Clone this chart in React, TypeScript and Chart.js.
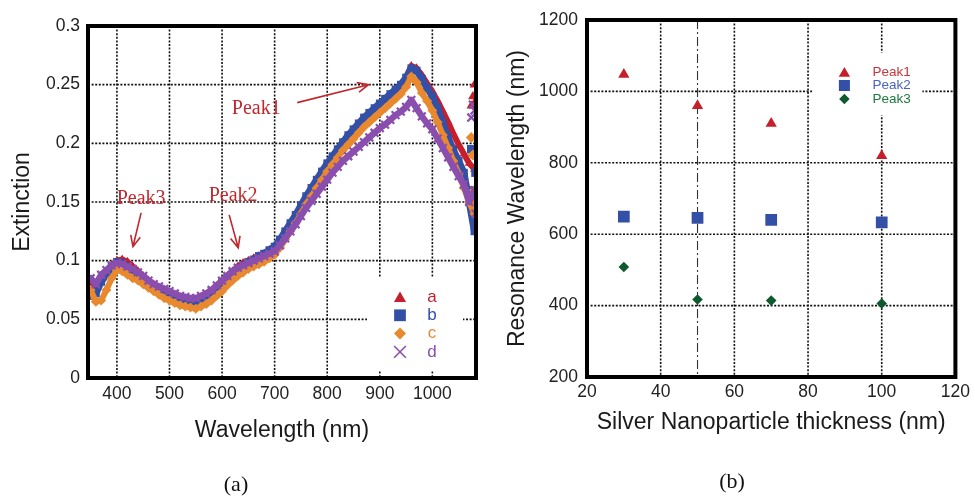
import React, { useEffect, useRef } from 'react';
import { Chart, registerables } from 'chart.js';

Chart.register(...registerables);

const SANS = "'Liberation Sans', Arial, Helvetica, sans-serif";
const SERIF = "'Liberation Serif', 'Times New Roman', serif";

// ---------------- Panel (a): extinction spectra ----------------
const wavelengthNm = [
  350, 360, 370, 380, 390, 400, 410, 420, 430, 440,
  450, 460, 470, 480, 490, 500, 510, 520, 530, 540,
  550, 560, 570, 580, 590, 600, 610, 620, 630, 640,
  650, 660, 670, 680, 690, 700, 710, 720, 730, 740,
  750, 760, 770, 780, 790, 800, 810, 820, 830, 840,
  850, 860, 870, 880, 890, 900, 910, 920, 930, 940,
  950, 960, 970, 980, 990, 1000, 1010, 1020, 1030, 1040,
  1050, 1060, 1070, 1080,
];

const extinctionA = [
  0.078, 0.075, 0.085, 0.090, 0.096, 0.100, 0.101, 0.099, 0.095, 0.091,
  0.087, 0.083, 0.080, 0.077, 0.075, 0.073, 0.071, 0.069, 0.068, 0.067,
  0.067, 0.069, 0.071, 0.074, 0.078, 0.083, 0.087, 0.091, 0.095, 0.098,
  0.100, 0.102, 0.104, 0.106, 0.109, 0.112, 0.117, 0.124, 0.131, 0.138,
  0.146, 0.154, 0.161, 0.168, 0.175, 0.182, 0.188, 0.194, 0.200, 0.206,
  0.211, 0.216, 0.221, 0.225, 0.229, 0.233, 0.237, 0.241, 0.245, 0.249,
  0.256, 0.266, 0.264, 0.258, 0.251, 0.244, 0.236, 0.227, 0.218, 0.208,
  0.199, 0.191, 0.183, 0.178,
];

const extinctionB = [
  0.070, 0.072, 0.082, 0.088, 0.095, 0.099, 0.098, 0.095, 0.091, 0.088,
  0.085, 0.081, 0.078, 0.075, 0.073, 0.071, 0.069, 0.067, 0.066, 0.065,
  0.065, 0.067, 0.070, 0.073, 0.077, 0.082, 0.086, 0.090, 0.093, 0.096,
  0.099, 0.101, 0.104, 0.106, 0.109, 0.112, 0.118, 0.125, 0.132, 0.139,
  0.147, 0.155, 0.162, 0.169, 0.176, 0.183, 0.189, 0.195, 0.201, 0.207,
  0.212, 0.217, 0.222, 0.226, 0.230, 0.234, 0.238, 0.242, 0.246, 0.250,
  0.256, 0.264, 0.262, 0.255, 0.247, 0.240, 0.230, 0.217, 0.205, 0.194,
  0.185, 0.175, 0.150, 0.125,
];

const extinctionC = [
  0.075, 0.065, 0.066, 0.075, 0.085, 0.092, 0.091, 0.088, 0.085, 0.083,
  0.080, 0.077, 0.074, 0.071, 0.068, 0.066, 0.064, 0.062, 0.061, 0.060,
  0.059, 0.061, 0.063, 0.066, 0.070, 0.074, 0.079, 0.083, 0.087, 0.090,
  0.093, 0.095, 0.097, 0.099, 0.102, 0.105, 0.111, 0.118, 0.125, 0.132,
  0.140, 0.148, 0.155, 0.162, 0.169, 0.176, 0.182, 0.188, 0.194, 0.199,
  0.204, 0.209, 0.214, 0.218, 0.222, 0.226, 0.230, 0.234, 0.238, 0.242,
  0.248, 0.257, 0.252, 0.243, 0.236, 0.228, 0.218, 0.207, 0.196, 0.185,
  0.174, 0.162, 0.150, 0.140,
];

const extinctionD = [
  0.085, 0.080, 0.088, 0.092, 0.096, 0.098, 0.097, 0.095, 0.093, 0.090,
  0.087, 0.083, 0.080, 0.078, 0.076, 0.074, 0.072, 0.070, 0.069, 0.068,
  0.068, 0.070, 0.072, 0.075, 0.079, 0.083, 0.087, 0.091, 0.094, 0.096,
  0.098, 0.100, 0.102, 0.104, 0.106, 0.108, 0.113, 0.119, 0.125, 0.131,
  0.138, 0.145, 0.151, 0.157, 0.163, 0.169, 0.175, 0.180, 0.185, 0.189,
  0.193, 0.197, 0.201, 0.205, 0.209, 0.213, 0.216, 0.220, 0.224, 0.227,
  0.231, 0.237, 0.230, 0.223, 0.217, 0.212, 0.204, 0.196, 0.188, 0.180,
  0.172, 0.165, 0.150, 0.160,
];

// scattered end points at the long-wavelength edge
const tailWavelengthNm = [1074, 1077, 1080, 1082];
const tailA = [0.232, 0.240, 0.250, 0.236];
const tailB = [0.195, 0.160, 0.135, 0.175];
const tailC = [0.205, 0.190, 0.160, 0.150];
const tailD = [0.222, 0.233, 0.228, 0.140];

const extSeriesNames = ['a', 'b', 'c', 'd'];
const extXTicks = [400, 500, 600, 700, 800, 900, 1000];
const extXLabels = ['400', '500', '600', '700', '800', '900', '1000'];
const extYTicks = [0, 0.05, 0.1, 0.15, 0.2, 0.25, 0.3];
const extYLabels = ['0', '0.05', '0.1', '0.15', '0.2', '0.25', '0.3'];

// ---------------- Panel (b): resonance wavelengths ----------------
const thicknessNm = [30, 50, 70, 100];
const peak1Nm = [1047, 960, 910, 820];
const peak2Nm = [649, 646, 640, 633];
const peak3Nm = [508, 417, 414, 406];
const peakNames = ['Peak1', 'Peak2', 'Peak3'];
const resXTicks = [20, 40, 60, 80, 100, 120];
const resXLabels = ['20', '40', '60', '80', '100', '120'];
const resYTicks = [200, 400, 600, 800, 1000, 1200];
const resYLabels = ['200', '400', '600', '800', '1000', '1200'];
const markedThickness = 50;

// colours
const RED = '#c61f2b';
const BLUE = '#3350a6';
const ORANGE = '#e8892f';
const PURPLE = '#8a4fae';
const GREEN = '#0e5a2c';
const NOTE_RED = '#c0282e';

// annotation texts for panel (a) (in data units)
const peakNotes = [
  { text: 'Peak1', x: 665, y: 0.2254, from: [743, 0.2347], to: [878.5, 0.25] },
  { text: 'Peak2', x: 621, y: 0.1508, from: [613.5, 0.139], to: [630.7, 0.111] },
  { text: 'Peak3', x: 446, y: 0.1483, from: [446, 0.1407], to: [430.5, 0.1119] },
];

const pts = (xs: number[], ys: number[]) => xs.map((x, i) => ({ x, y: ys[i] }));

function drawMarker(ctx: CanvasRenderingContext2D, style: string, x: number, y: number, r: number, color: string) {
  ctx.save();
  ctx.fillStyle = color;
  ctx.strokeStyle = color;
  ctx.beginPath();
  if (style === 'triangle') {
    ctx.moveTo(x, y - r);
    ctx.lineTo(x + r * 0.866, y + r / 2);
    ctx.lineTo(x - r * 0.866, y + r / 2);
    ctx.closePath();
    ctx.fill();
  } else if (style === 'rect') {
    const s = r * Math.SQRT1_2;
    ctx.fillRect(x - s, y - s, 2 * s, 2 * s);
  } else if (style === 'rectRot') {
    ctx.moveTo(x, y - r);
    ctx.lineTo(x + r, y);
    ctx.lineTo(x, y + r);
    ctx.lineTo(x - r, y);
    ctx.closePath();
    ctx.fill();
  } else {
    const s = r * Math.SQRT1_2;
    ctx.lineWidth = 1.6;
    ctx.moveTo(x - s, y - s);
    ctx.lineTo(x + s, y + s);
    ctx.moveTo(x + s, y - s);
    ctx.lineTo(x - s, y + s);
    ctx.stroke();
  }
  ctx.restore();
}

function drawGrid(chart: any, xs: number[], ys: number[]) {
  const { ctx, chartArea: a, scales } = chart;
  ctx.save();
  ctx.strokeStyle = '#111';
  ctx.lineWidth = 1.6;
  ctx.setLineDash([2, 1.6]);
  xs.forEach((v) => {
    const px = scales.x.getPixelForValue(v);
    ctx.beginPath();
    ctx.moveTo(px, a.top);
    ctx.lineTo(px, a.bottom);
    ctx.stroke();
  });
  ys.forEach((v) => {
    const py = scales.y.getPixelForValue(v);
    ctx.beginPath();
    ctx.moveTo(a.left, py);
    ctx.lineTo(a.right, py);
    ctx.stroke();
  });
  ctx.restore();
}

function drawFrame(chart: any) {
  const { ctx, chartArea: a } = chart;
  ctx.save();
  ctx.strokeStyle = '#000';
  ctx.lineWidth = 4;
  ctx.setLineDash([]);
  ctx.strokeRect(a.left, a.top, a.right - a.left, a.bottom - a.top);
  ctx.restore();
}

function whiteBox(chart: any, x: number, y: number, w: number, h: number) {
  const { ctx } = chart;
  ctx.save();
  ctx.fillStyle = '#fff';
  ctx.fillRect(x, y, w, h);
  ctx.restore();
}

const panelAPlugin = {
  id: 'panelA',
  beforeDatasetsDraw(chart: any) {
    const a = chart.chartArea;
    drawGrid(chart, extXTicks, extYTicks.slice(1, -1));
    whiteBox(chart, a.right - 109, a.bottom - 100, 96, 92);
  },
  afterDatasetsDraw(chart: any) {
    const { ctx, chartArea: a, scales } = chart;
    drawFrame(chart);
    // legend
    const styles = ['triangle', 'rect', 'rectRot', 'crossRot'];
    const colors = [RED, BLUE, ORANGE, PURPLE];
    const sizes = [7, 8.3, 6, 8.3];
    extSeriesNames.forEach((name, i) => {
      const y = a.bottom - 81 + i * 18.3;
      drawMarker(ctx, styles[i], a.right - 76, y + (i === 0 ? 1.5 : 0), sizes[i], colors[i]);
      ctx.save();
      ctx.fillStyle = colors[i];
      ctx.font = `17px ${SANS}`;
      ctx.textAlign = 'center';
      ctx.textBaseline = 'middle';
      ctx.fillText(name, a.right - 44, y);
      ctx.restore();
    });
    // peak annotations
    ctx.save();
    ctx.fillStyle = NOTE_RED;
    ctx.strokeStyle = NOTE_RED;
    ctx.font = `20px ${SERIF}`;
    ctx.textAlign = 'center';
    ctx.textBaseline = 'alphabetic';
    ctx.lineWidth = 1.6;
    peakNotes.forEach((n) => {
      ctx.fillText(n.text, scales.x.getPixelForValue(n.x), scales.y.getPixelForValue(n.y));
      const fx = scales.x.getPixelForValue(n.from[0]);
      const fy = scales.y.getPixelForValue(n.from[1]);
      const tx = scales.x.getPixelForValue(n.to[0]);
      const ty = scales.y.getPixelForValue(n.to[1]);
      const ang = Math.atan2(ty - fy, tx - fx);
      const L = 12;
      const w = 0.42;
      ctx.beginPath();
      ctx.moveTo(fx, fy);
      ctx.lineTo(tx, ty);
      ctx.moveTo(tx - L * Math.cos(ang - w), ty - L * Math.sin(ang - w));
      ctx.lineTo(tx, ty);
      ctx.lineTo(tx - L * Math.cos(ang + w), ty - L * Math.sin(ang + w));
      ctx.stroke();
    });
    ctx.restore();
    // panel label
    ctx.save();
    ctx.fillStyle = '#111';
    ctx.font = `22px ${SERIF}`;
    ctx.textAlign = 'center';
    ctx.textBaseline = 'middle';
    ctx.fillText('(a)', 236, 485);
    ctx.restore();
  },
};

const panelBPlugin = {
  id: 'panelB',
  beforeDatasetsDraw(chart: any) {
    const { ctx, chartArea: a, scales } = chart;
    drawGrid(chart, resXTicks.slice(1, -1), resYTicks.slice(1, -1));
    // dash-dot marker line
    const px = scales.x.getPixelForValue(markedThickness);
    ctx.save();
    ctx.strokeStyle = '#333';
    ctx.lineWidth = 1.1;
    ctx.setLineDash([9, 3, 2, 3]);
    ctx.beginPath();
    ctx.moveTo(px, a.top);
    ctx.lineTo(px, a.bottom);
    ctx.stroke();
    ctx.restore();
    whiteBox(chart, a.right - 143, a.top + 33, 110, 62);
  },
  afterDatasetsDraw(chart: any) {
    const { ctx, chartArea: a } = chart;
    drawFrame(chart);
    const styles = ['triangle', 'rect', 'rectRot'];
    const colors = [RED, BLUE, GREEN];
    const textColors = ['#c8353a', '#4a64c0', '#1d7a3e'];
    const sizes = [6.5, 7.8, 5.2];
    peakNames.forEach((name, i) => {
      const y = a.top + 52 + i * 13.5;
      drawMarker(ctx, styles[i], a.right - 111, y + (i === 0 ? 1.5 : 0), sizes[i], colors[i]);
      ctx.save();
      ctx.fillStyle = textColors[i];
      ctx.font = `13.5px ${SANS}`;
      ctx.textAlign = 'left';
      ctx.textBaseline = 'middle';
      ctx.fillText(name, a.right - 83, y);
      ctx.restore();
    });
    ctx.save();
    ctx.fillStyle = '#111';
    ctx.font = `22px ${SERIF}`;
    ctx.textAlign = 'center';
    ctx.textBaseline = 'middle';
    ctx.fillText('(b)', 242, 482);
    ctx.restore();
  },
};

const tickFont = { family: SANS, size: 17.5 };
const titleFont = { family: SANS, size: 23 };

function fixedTicks(values: number[]) {
  return (scale: any) => {
    scale.ticks = values.map((v) => ({ value: v }));
  };
}

export default function App() {
  const leftRef = useRef<HTMLCanvasElement | null>(null);
  const rightRef = useRef<HTMLCanvasElement | null>(null);

  useEffect(() => {
    if (!leftRef.current || !rightRef.current) return;

    // dense marker band: thick connecting line under the markers
    const bandDef = (label: string, ys: number[], style: string, color: string, r: number, lw: number, order: number, pbw = 0) => ({
      label,
      data: pts(wavelengthNm, ys),
      showLine: true,
      tension: 0,
      borderWidth: lw,
      borderJoinStyle: 'round',
      borderCapStyle: 'round',
      pointStyle: style,
      pointRadius: r,
      pointHoverRadius: r,
      pointBorderWidth: pbw,
      pointBackgroundColor: color,
      pointBorderColor: color,
      backgroundColor: color,
      borderColor: color,
      order,
    });
    const tailDef = (label: string, ys: number[], style: string, color: string, r: number, order: number, pbw = 0) => ({
      label,
      data: pts(tailWavelengthNm, ys),
      showLine: false,
      pointStyle: style,
      pointRadius: r,
      pointHoverRadius: r,
      borderWidth: pbw,
      backgroundColor: color,
      borderColor: color,
      order,
    });

    const left = new Chart(leftRef.current, {
      type: 'scatter',
      data: {
        datasets: [
          bandDef(extSeriesNames[0], extinctionA, 'triangle', RED, 5, 6, 8),
          tailDef(extSeriesNames[0], tailA, 'triangle', RED, 5.5, 7),
          bandDef(extSeriesNames[1], extinctionB, 'rect', BLUE, 5.5, 7, 6),
          tailDef(extSeriesNames[1], tailB, 'rect', BLUE, 6, 5),
          bandDef(extSeriesNames[2], extinctionC, 'rectRot', ORANGE, 5, 6, 4),
          tailDef(extSeriesNames[2], tailC, 'rectRot', ORANGE, 5.5, 3),
          bandDef(extSeriesNames[3], extinctionD, 'crossRot', PURPLE, 5.5, 6.5, 2, 2.2),
          tailDef(extSeriesNames[3], tailD, 'crossRot', PURPLE, 5.5, 1, 2.2),
        ],
      } as any,
      options: {
        responsive: false,
        animation: false,
        events: [],
        layout: { padding: { left: 0, right: 14, top: 26, bottom: 0 } },
        plugins: { legend: { display: false }, tooltip: { enabled: false } },
        scales: {
          x: {
            type: 'linear',
            min: 345,
            max: 1083,
            afterBuildTicks: fixedTicks(extXTicks),
            afterFit: (s: any) => { s.height = 118; },
            grid: { display: false, drawTicks: false },
            border: { display: false },
            ticks: {
              font: tickFont,
              color: '#222',
              padding: 6,
              maxRotation: 0,
              autoSkip: false,
              callback: (_v: any, i: number) => extXLabels[i],
            },
            title: { display: true, text: 'Wavelength (nm)', font: titleFont, color: '#1a1a1a', padding: { top: 0, bottom: 52 } },
          },
          y: {
            type: 'linear',
            min: 0,
            max: 0.3,
            afterBuildTicks: fixedTicks(extYTicks),
            afterFit: (s: any) => { s.width = 88; },
            grid: { display: false, drawTicks: false },
            border: { display: false },
            ticks: {
              font: tickFont,
              color: '#222',
              padding: 8,
              autoSkip: false,
              callback: (_v: any, i: number) => extYLabels[i],
            },
            title: { display: true, text: 'Extinction', font: titleFont, color: '#1a1a1a', padding: { top: 9, bottom: 0 } },
          },
        },
      } as any,
      plugins: [panelAPlugin],
    });

    const rDef = (label: string, ys: number[], style: string, color: string, r: number) => ({
      label,
      data: pts(thicknessNm, ys),
      pointStyle: style,
      pointRadius: r,
      pointHoverRadius: r,
      backgroundColor: color,
      borderColor: color,
      borderWidth: 0,
    });

    const right = new Chart(rightRef.current, {
      type: 'scatter',
      data: {
        datasets: [
          rDef(peakNames[0], peak1Nm, 'triangle', RED, 6.5),
          rDef(peakNames[1], peak2Nm, 'rect', BLUE, 8.3),
          rDef(peakNames[2], peak3Nm, 'rectRot', GREEN, 5.3),
        ],
      } as any,
      options: {
        responsive: false,
        animation: false,
        events: [],
        layout: { padding: { left: 0, right: 15, top: 20, bottom: 0 } },
        plugins: { legend: { display: false }, tooltip: { enabled: false } },
        scales: {
          x: {
            type: 'linear',
            min: 20,
            max: 120,
            afterBuildTicks: fixedTicks(resXTicks),
            afterFit: (s: any) => { s.height = 119; },
            grid: { display: false, drawTicks: false },
            border: { display: false },
            ticks: {
              font: tickFont,
              color: '#222',
              padding: 5,
              maxRotation: 0,
              autoSkip: false,
              callback: (_v: any, i: number) => resXLabels[i],
            },
            title: { display: true, text: 'Silver Nanoparticle thickness (nm)', font: titleFont, color: '#1a1a1a', padding: { top: 0, bottom: 59.7 } },
          },
          y: {
            type: 'linear',
            min: 200,
            max: 1200,
            afterBuildTicks: fixedTicks(resYTicks),
            afterFit: (s: any) => { s.width = 97; },
            grid: { display: false, drawTicks: false },
            border: { display: false },
            ticks: {
              font: tickFont,
              color: '#222',
              padding: 9,
              autoSkip: false,
              callback: (_v: any, i: number) => resYLabels[i],
            },
            title: { display: true, text: 'Resonance Wavelength (nm)', font: titleFont, color: '#1a1a1a', padding: { top: 13.7, bottom: 0 } },
          },
        },
      } as any,
      plugins: [panelBPlugin],
    });

    return () => {
      left.destroy();
      right.destroy();
    };
  }, []);

  return (
    <div style={{ position: 'fixed', left: 0, top: 0, width: 975, height: 496, background: '#fff', overflow: 'hidden' }}>
      <canvas ref={leftRef} width={490} height={496} style={{ position: 'absolute', left: 0, top: 0, width: 490, height: 496 }} />
      <canvas ref={rightRef} width={485} height={496} style={{ position: 'absolute', left: 490, top: 0, width: 485, height: 496 }} />
    </div>
  );
}
